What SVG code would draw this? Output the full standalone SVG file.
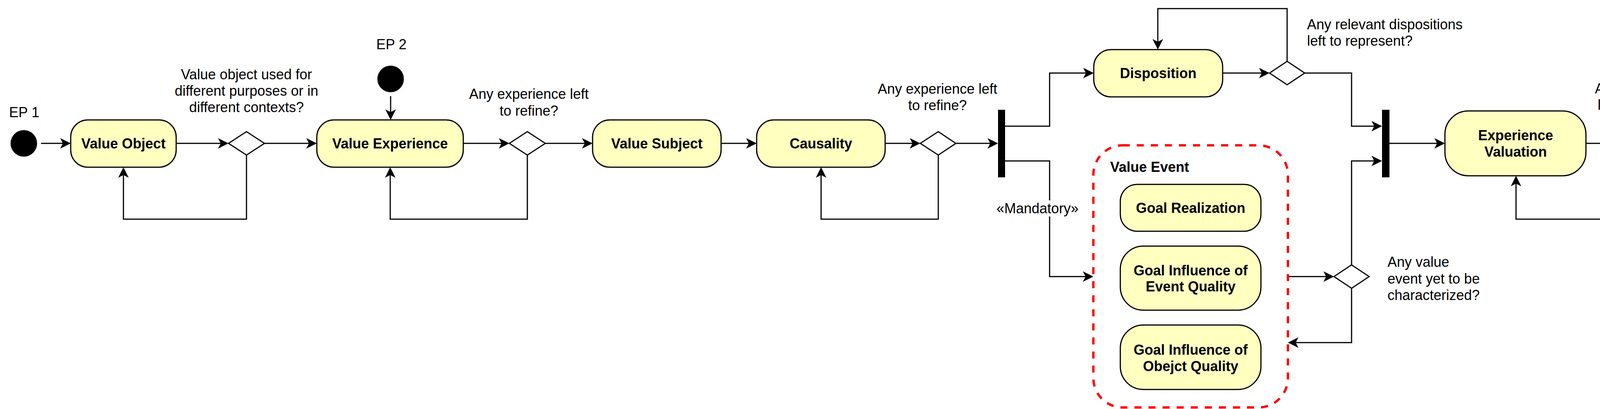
<svg xmlns="http://www.w3.org/2000/svg" width="4749" height="1047" viewBox="0 0 4749 1047">
<style>
.act{fill:#FFFFC0;stroke:#000;stroke-width:3}
.dec{fill:#fff;stroke:#000;stroke-width:3}
.bar{fill:#000}
.start{fill:#000}
.t{font-family:"Liberation Sans",Arial,Helvetica,sans-serif;font-size:36px;fill:#000}
.b{font-weight:bold}
.m{text-anchor:middle}
.edge{fill:none;stroke:#000;stroke-width:3}
.arr{marker-end:url(#arrow)}
.grp{fill:none;stroke:#FF0000;stroke-width:6;stroke-dasharray:18 18}
</style>
<defs>
<marker id="arrow" markerUnits="userSpaceOnUse" markerWidth="28" markerHeight="28" refX="19" refY="13.5" orient="auto">
<path d="M0,0 L27,13.5 L0,27 L7,13.5 Z" fill="#000"/>
</marker>
</defs>
<rect x="0" y="0" width="4749" height="1047" fill="#fff"/>

<g id="connectors">
<path class="edge arr" d="M105,367 H173"/>
<path class="edge arr" d="M451,367 H577"/>
<path class="edge arr" d="M631,397 V561 H316 V436"/>
<path class="edge arr" d="M677,367 H803"/>
<path class="edge arr" d="M1000,246 V299"/>
<path class="edge arr" d="M1186,367 H1296"/>
<path class="edge arr" d="M1350,397 V561 H999 V436"/>
<path class="edge arr" d="M1396,367 H1509"/>
<path class="edge arr" d="M1846,367 H1929"/>
<path class="edge arr" d="M2266,367 H2348"/>
<path class="edge arr" d="M2402,397 V561 H2102 V436"/>
<path class="edge arr" d="M2447,367 H2547"/>
<path class="edge arr" d="M2573,323 H2687 V187 H2792"/>
<path class="edge arr" d="M2573,412 H2687 V708 H2791"/>
<path class="edge arr" d="M3130,187 H3242"/>
<path class="edge arr" d="M3295,157 V22 H2964 V119"/>
<path class="edge arr" d="M3340,187 H3460 V323 H3530"/>
<path class="edge arr" d="M3297,708 H3407"/>
<path class="edge arr" d="M3460,678 V412 H3530"/>
<path class="edge arr" d="M3460,738 V877 H3305"/>
<path class="edge arr" d="M3557,367 H3691"/>
<path class="edge arr" d="M4060,367 H4156"/>
<path class="edge arr" d="M4209,397 V561 H3881 V458"/>
<path class="edge arr" d="M4254,367 H4350"/>
<rect x="2548" y="513" width="216" height="41" fill="#fff"/>
<text class="t m" x="2656" y="546">«Mandatory»</text>
</g>

<g id="ep1">
<circle class="start" cx="61" cy="367" r="34"/>
<text class="t m" x="62" y="300">EP 1</text>
</g>
<g id="value-object">
<rect class="act" x="181" y="307" width="270" height="121" rx="44" ry="44"/>
<text class="t b m" x="316" y="380">Value Object</text>
</g>
<g id="decision-1">
<polygon class="dec" points="585,367 631,337 677,367 631,397"/>
<text class="t m" x="631" y="203">Value object used for</text>
<text class="t m" x="631" y="245">different purposes or in</text>
<text class="t m" x="631" y="287">different contexts?</text>
</g>
<g id="ep2">
<circle class="start" cx="1000" cy="202" r="34"/>
<text class="t m" x="1002" y="126">EP 2</text>
</g>
<g id="value-experience">
<rect class="act" x="811" y="307" width="375" height="121" rx="44" ry="44"/>
<text class="t b m" x="998.5" y="380">Value Experience</text>
</g>
<g id="decision-2">
<polygon class="dec" points="1304,367 1350,337 1396,367 1350,397"/>
<text class="t m" x="1354" y="253">Any experience left</text>
<text class="t m" x="1354" y="296">to refine?</text>
</g>
<g id="value-subject">
<rect class="act" x="1517" y="307" width="329" height="121" rx="44" ry="44"/>
<text class="t b m" x="1681.5" y="380">Value Subject</text>
</g>
<g id="causality">
<rect class="act" x="1937" y="307" width="329" height="121" rx="44" ry="44"/>
<text class="t b m" x="2101.5" y="380">Causality</text>
</g>
<g id="decision-3">
<polygon class="dec" points="2356,367 2402,337 2447,367 2402,397"/>
<text class="t m" x="2400" y="240">Any experience left</text>
<text class="t m" x="2400" y="282">to refine?</text>
</g>
<g id="fork">
<rect class="bar" x="2555" y="281" width="18" height="173"/>
</g>
<g id="disposition">
<rect class="act" x="2800" y="127" width="330" height="121" rx="44" ry="44"/>
<text class="t b m" x="2965" y="200">Disposition</text>
</g>
<g id="decision-4">
<polygon class="dec" points="3250,187 3295,157 3340,187 3295,217"/>
<text class="t" x="3346" y="75">Any relevant dispositions</text>
<text class="t" x="3346" y="117">left to represent?</text>
</g>
<g id="value-event">
<rect class="grp" x="2799" y="372" width="498" height="671" rx="75" ry="75"/>
<text class="t b" x="2842" y="440">Value Event</text>
</g>
<g id="goal-realization">
<rect class="act" x="2868" y="472" width="360" height="120" rx="43" ry="43"/>
<text class="t b m" x="3048" y="545">Goal Realization</text>
</g>
<g id="goal-influence-event">
<rect class="act" x="2868" y="630" width="360" height="164" rx="59" ry="59"/>
<text class="t b m" x="3048" y="705">Goal Influence of</text>
<text class="t b m" x="3048" y="746">Event Quality</text>
</g>
<g id="goal-influence-object">
<rect class="act" x="2868" y="832" width="360" height="165" rx="59" ry="59"/>
<text class="t b m" x="3048" y="908">Goal Influence of</text>
<text class="t b m" x="3048" y="950">Obejct Quality</text>
</g>
<g id="decision-5">
<polygon class="dec" points="3415,708 3460,678 3505,708 3460,738"/>
<text class="t" x="3552" y="683">Any value</text>
<text class="t" x="3552" y="726">event yet to be</text>
<text class="t" x="3552" y="768">characterized?</text>
</g>
<g id="join">
<rect class="bar" x="3538" y="281" width="19" height="173"/>
</g>
<g id="experience-valuation">
<rect class="act" x="3699" y="284" width="361" height="166" rx="60" ry="60"/>
<text class="t b m" x="3880" y="359">Experience</text>
<text class="t b m" x="3880" y="401">Valuation</text>
</g>
<g id="decision-6">
<polygon class="dec" points="4164,367 4209,337 4254,367 4209,397"/>
<text class="t m" x="4207" y="239">Any experience</text>
<text class="t m" x="4207" y="281">left to valuate?</text>
</g>
<g id="object-valuation">
<rect class="act" x="4358" y="307" width="388" height="121" rx="44" ry="44"/>
<text class="t b m" x="4552" y="380">Object Valuation</text>
</g>
</svg>
